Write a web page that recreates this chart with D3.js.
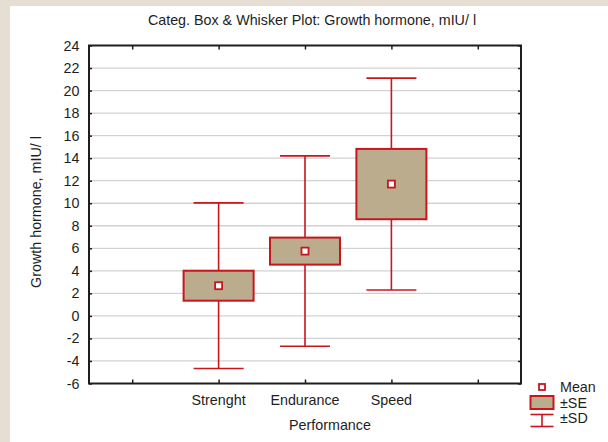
<!DOCTYPE html>
<html>
<head>
<meta charset="utf-8">
<script src="https://cdn.jsdelivr.net/npm/d3@7"></script>
<style>
  html, body { margin: 0; padding: 0; overflow: hidden; background: #fff; }
  svg { display: block; font-family: "Liberation Sans", Arial, sans-serif; }
</style>
</head>
<body>
<div id="chart"></div>
<script>
var W = 608,
	H = 442;

// data
var categories = ["", "Strenght", "Endurance", "Speed", " "];
var groups = ["Strenght", "Endurance", "Speed"];
var means = [2.68, 5.75, 11.7];
var se = [1.33, 1.2, 3.12];
var sd = [7.35, 8.45, 9.4];
var yTicks = [-6, -4, -2, 0, 2, 4, 6, 8, 10, 12, 14, 16, 18, 20, 22, 24];
var legendItems = ["Mean", "±SE", "±SD"];

var red = "#c8161d",
	tan = "#bcac8e",
	ink = "#1e1e1e",
	beige = "#e6ded2",
	fs = "14.3px";

var m = {left: 89, right: 521, top: 45.5, bottom: 383.5};

var svg = d3.select("#chart").append("svg")
	.attr("width", W)
	.attr("height", H);

// beige strips at top and left, white panel elsewhere
svg.append("rect")
	.attr("x", 0).attr("y", 0)
	.attr("width", W).attr("height", 6)
	.attr("fill", beige);
svg.append("rect")
	.attr("x", 0).attr("y", 0)
	.attr("width", 10).attr("height", H)
	.attr("fill", beige);

var x = d3.scalePoint().domain(categories).range([m.left, m.right]).padding(0.5);
var y = d3.scaleLinear().domain([-6, 24]).range([m.bottom, m.top]);

// grid
svg.append("g")
	.selectAll("line")
	.data(yTicks.filter(function(d){ return d > -6 && d < 24; }))
	.enter().append("line")
	.attr("x1", m.left).attr("x2", m.right)
	.attr("y1", function(d){ return y(d); })
	.attr("y2", function(d){ return y(d); })
	.attr("stroke", "#d2d2d2")
	.attr("stroke-width", 1.3);

// axes with inward ticks
var axL = svg.append("g").attr("transform", "translate(" + m.left + ",0)")
	.call(d3.axisRight(y).tickValues(yTicks).tickSize(3).tickFormat(""));
var axR = svg.append("g").attr("transform", "translate(" + m.right + ",0)")
	.call(d3.axisLeft(y).tickValues(yTicks).tickSize(3).tickFormat(""));
var axB = svg.append("g").attr("transform", "translate(0," + m.bottom + ")")
	.call(d3.axisTop(x).tickSize(4).tickFormat(""));
var axT = svg.append("g").attr("transform", "translate(0," + m.top + ")")
	.call(d3.axisBottom(x).tickSize(4).tickFormat(""));
[axL, axR, axB, axT].forEach(function(a){
	a.select(".domain").remove();
	a.selectAll(".tick line").attr("stroke", ink).attr("stroke-width", 1.5);
});

// y tick labels
svg.append("g")
	.selectAll("text")
	.data(yTicks)
	.enter().append("text")
	.attr("x", 79.5)
	.attr("y", function(d){ return y(d) + 5; })
	.attr("text-anchor", "end")
	.attr("font-size", fs)
	.attr("fill", ink)
	.text(function(d){ return d; });

// x tick labels
svg.append("g")
	.selectAll("text")
	.data(groups)
	.enter().append("text")
	.attr("x", function(d){ return x(d); })
	.attr("y", 405)
	.attr("text-anchor", "middle")
	.attr("font-size", fs)
	.attr("fill", ink)
	.text(function(d){ return d; });

// frame
svg.append("rect")
	.attr("x", m.left).attr("y", m.top)
	.attr("width", m.right - m.left).attr("height", m.bottom - m.top)
	.attr("fill", "none")
	.attr("stroke", ink)
	.attr("stroke-width", 2);

// boxes
var boxW = 70, capW = 50;
var g = svg.append("g")
	.selectAll("g")
	.data(groups)
	.enter().append("g");

g.append("line")
	.attr("x1", function(d){ return x(d); })
	.attr("x2", function(d){ return x(d); })
	.attr("y1", function(d, i){ return y(means[i] + sd[i]); })
	.attr("y2", function(d, i){ return y(means[i] - sd[i]); })
	.attr("stroke", red).attr("stroke-width", 1.6);
g.append("line")
	.attr("x1", function(d){ return x(d) - capW / 2; })
	.attr("x2", function(d){ return x(d) + capW / 2; })
	.attr("y1", function(d, i){ return y(means[i] + sd[i]); })
	.attr("y2", function(d, i){ return y(means[i] + sd[i]); })
	.attr("stroke", red).attr("stroke-width", 1.6);
g.append("line")
	.attr("x1", function(d){ return x(d) - capW / 2; })
	.attr("x2", function(d){ return x(d) + capW / 2; })
	.attr("y1", function(d, i){ return y(means[i] - sd[i]); })
	.attr("y2", function(d, i){ return y(means[i] - sd[i]); })
	.attr("stroke", red).attr("stroke-width", 1.6);
g.append("rect")
	.attr("x", function(d){ return x(d) - boxW / 2; })
	.attr("y", function(d, i){ return y(means[i] + se[i]); })
	.attr("width", boxW)
	.attr("height", function(d, i){ return y(means[i] - se[i]) - y(means[i] + se[i]); })
	.attr("fill", tan)
	.attr("stroke", red).attr("stroke-width", 2);
g.append("rect")
	.attr("x", function(d){ return x(d) - 3.5; })
	.attr("y", function(d, i){ return y(means[i]) - 3.5; })
	.attr("width", 7).attr("height", 7)
	.attr("fill", "#fff")
	.attr("stroke", red).attr("stroke-width", 1.8);

// title and axis titles
svg.append("text")
	.attr("x", 312).attr("y", 25)
	.attr("text-anchor", "middle")
	.attr("font-size", fs)
	.attr("fill", ink)
	.text("Categ. Box & Whisker Plot: Growth hormone, mIU/ l");

svg.append("text")
	.attr("x", 330).attr("y", 430)
	.attr("text-anchor", "middle")
	.attr("font-size", fs)
	.attr("fill", ink)
	.text("Performance");

svg.append("text")
	.attr("transform", "translate(41,212) rotate(-90)")
	.attr("text-anchor", "middle")
	.attr("font-size", fs)
	.attr("fill", ink)
	.text("Growth hormone, mIU/ l");

// legend
var lg = svg.append("g").attr("transform", "translate(542,0)");
lg.append("rect")
	.attr("x", -3).attr("y", 384).attr("width", 6).attr("height", 6)
	.attr("fill", "#fff").attr("stroke", red).attr("stroke-width", 1.8);
lg.append("rect")
	.attr("x", -11.5).attr("y", 396).attr("width", 23).attr("height", 13)
	.attr("fill", tan).attr("stroke", red).attr("stroke-width", 2);
lg.append("line").attr("x1", -11.5).attr("x2", 11.5).attr("y1", 414.5).attr("y2", 414.5)
	.attr("stroke", red).attr("stroke-width", 1.6);
lg.append("line").attr("x1", 0).attr("x2", 0).attr("y1", 414.5).attr("y2", 426.5)
	.attr("stroke", red).attr("stroke-width", 1.6);
lg.append("line").attr("x1", -11.5).attr("x2", 11.5).attr("y1", 426.5).attr("y2", 426.5)
	.attr("stroke", red).attr("stroke-width", 1.6);
lg.selectAll("text")
	.data(legendItems)
	.enter().append("text")
	.attr("x", 18)
	.attr("y", function(d, i){ return 392 + i * 15.5; })
	.attr("font-size", fs)
	.attr("fill", ink)
	.text(function(d){ return d; });
</script>
</body>
</html>
